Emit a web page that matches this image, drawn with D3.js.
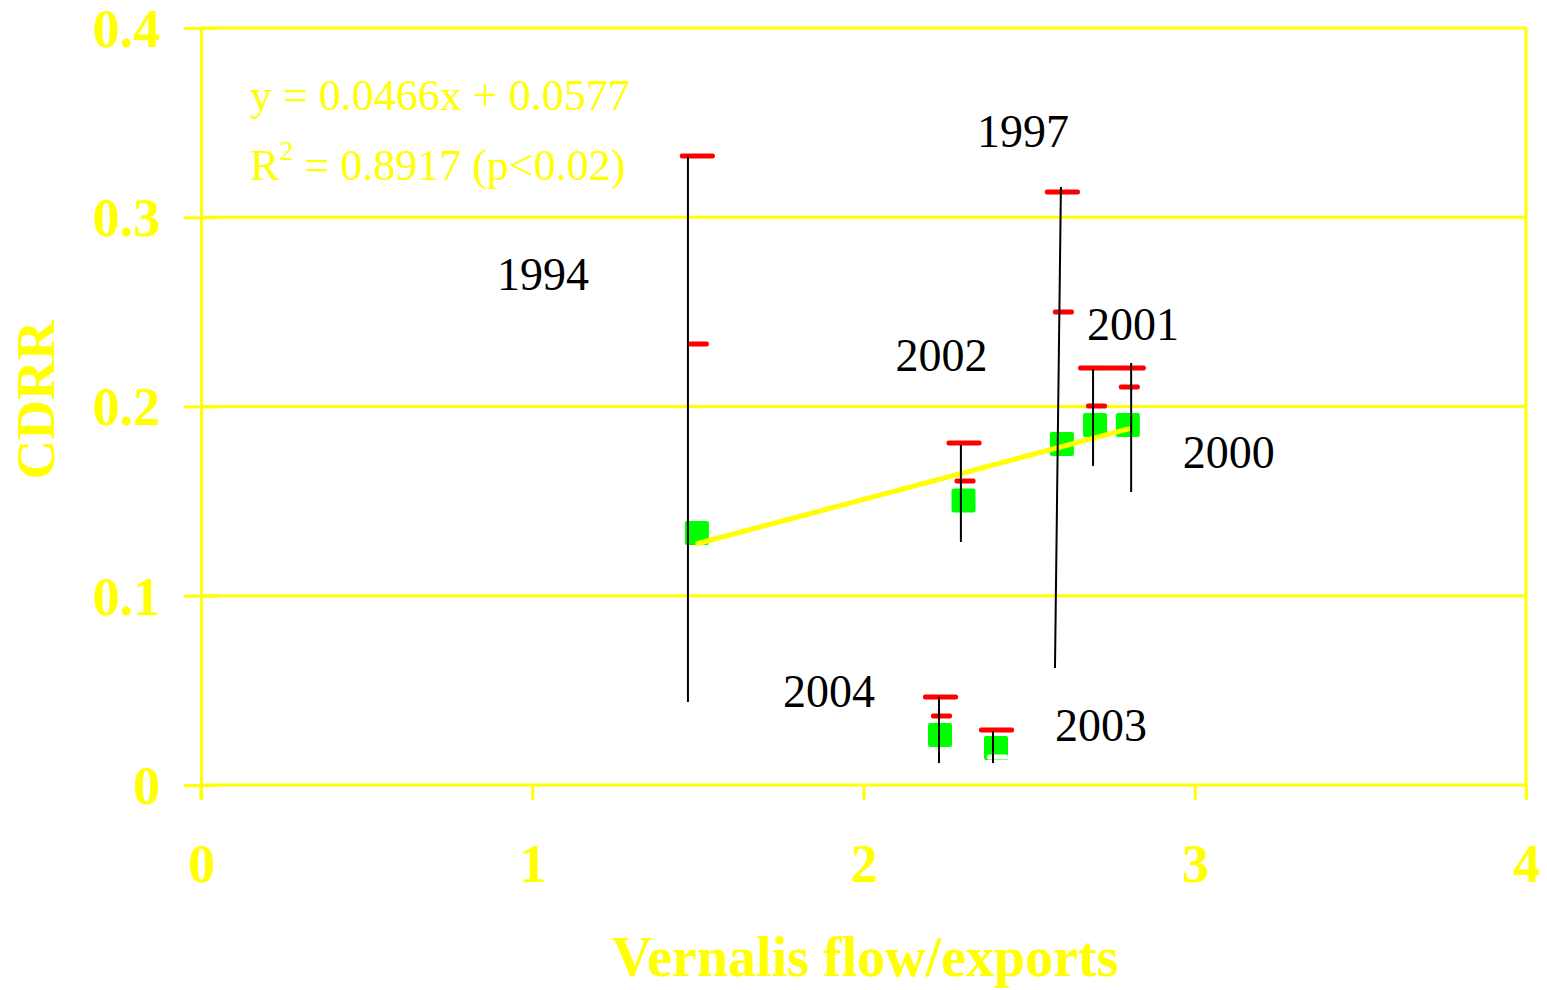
<!DOCTYPE html>
<html>
<head>
<meta charset="utf-8">
<script src="https://cdn.jsdelivr.net/npm/d3@7"></script>
<style>
  body { margin: 0; background: #fff; }
  svg { display: block; }
  text { font-family: "Liberation Serif", "Times New Roman", serif; }
</style>
</head>
<body>
<svg id="chart" width="1547" height="990"></svg>
<script>
// CDRR vs Vernalis flow/exports, one point per year

var years       = ["1994", "2002", "1997", "2001", "2000", "2004", "2003"];
var flowExports = [1.497, 2.302, 2.599, 2.699, 2.798, 2.231, 2.400];
var cdrr        = [0.1332, 0.1503, 0.1802, 0.1902, 0.1902, 0.0264, 0.0196];

// red markers: upper (wide) and middle (short)
var upperMark = [0.3324, 0.1807, 0.3133, 0.2203, 0.2203, 0.0465, 0.0291];
var midMark   = [0.2330, 0.1606, 0.2499, 0.2003, 0.2103, 0.0365, 0.0148];

// black range lines
var barTop     = [0.3324, 0.1797, 0.3160, 0.2198, 0.2230, 0.0465, 0.0285];
var barBottom  = [0.0439, 0.1284, 0.0618, 0.1686, 0.1548, 0.0116, 0.0116];
var barXTop    = [1.470, 2.294, 2.596, 2.693, 2.808, 2.228, 2.391];
var barXBottom = [1.470, 2.294, 2.578, 2.693, 2.808, 2.228, 2.391];

// trend line y = a x + b
var slope = 0.0466;
var intercept = 0.0577;
var trendRange = [1.5, 2.8];
var eqText = "y = 0.0466x + 0.0577";
var r2Text = " = 0.8917 (p<0.02)";

var xTicks = [0, 1, 2, 3, 4];
var yTicks = [0, 0.1, 0.2, 0.3, 0.4];

// label offsets (px) from each point
var labelOffset = {
  "1994": [-200, -243], "2002": [-68, -130], "1997": [-85, -297],
  "2001": [-8, -85], "2000": [55, 43], "2004": [-157, -28], "2003": [59, -7]
};

var yellow = "#ffff00";
var svg = d3.select("#chart");

var x = d3.scaleLinear().domain([0, 4]).range([201, 1526]);
var y = d3.scaleLinear().domain([0, 0.4]).range([785, 28]);

// gridlines + top border
svg.append("g").selectAll("line")
  .data(yTicks.filter(function(d) { return d > 0; }))
  .enter().append("line")
  .attr("x1", x(0)).attr("x2", x(4))
  .attr("y1", function(d) { return y(d); })
  .attr("y2", function(d) { return y(d); })
  .attr("stroke", yellow).attr("stroke-width", 3);

// right border
svg.append("line")
  .attr("x1", x(4)).attr("x2", x(4)).attr("y1", y(0.4)).attr("y2", y(0))
  .attr("stroke", yellow).attr("stroke-width", 3);

// x axis
var xAxis = svg.append("g")
  .attr("transform", "translate(0," + y(0) + ")")
  .call(d3.axisBottom(x).tickValues(xTicks).tickSize(15).tickPadding(44)
        .tickFormat(d3.format("d")));
// y axis (cross ticks)
var yAxis = svg.append("g")
  .attr("transform", "translate(" + x(0) + ",0)")
  .call(d3.axisLeft(y).tickValues(yTicks).tickSize(17).tickPadding(24)
        .tickFormat(function(d) { return d === 0 ? "0" : d3.format(".1f")(d); }));
var yAxis2 = svg.append("g")
  .attr("transform", "translate(" + x(0) + ",0)")
  .call(d3.axisRight(y).tickValues(yTicks).tickSize(17).tickFormat(""));

[xAxis, yAxis, yAxis2].forEach(function(g) {
  g.select(".domain").attr("stroke", yellow).attr("stroke-width", 3);
  g.selectAll(".tick line").attr("stroke", yellow).attr("stroke-width", 3);
  g.selectAll(".tick text")
    .attr("fill", yellow)
    .attr("font-family", "Liberation Serif, Times New Roman, serif")
    .attr("font-weight", "bold")
    .attr("font-size", 54);
});
yAxis2.select(".domain").remove();
xAxis.select(".domain").attr("d", "M" + (x(0) - 1.5) + ",0H" + (x(4) + 1.5));
// extend y axis down to the x tick
svg.append("line")
  .attr("x1", x(0)).attr("x2", x(0)).attr("y1", y(0)).attr("y2", y(0) + 15)
  .attr("stroke", yellow).attr("stroke-width", 3);
yAxis.selectAll(".tick text").attr("dy", "0.34em");

// axis titles
svg.append("text")
  .attr("x", 865).attr("y", 976)
  .attr("text-anchor", "middle")
  .attr("fill", yellow).attr("font-weight", "bold").attr("font-size", 56)
  .text("Vernalis flow/exports");
svg.append("text")
  .attr("transform", "translate(54,400) rotate(-90)")
  .attr("text-anchor", "middle")
  .attr("fill", yellow).attr("font-weight", "bold").attr("font-size", 55)
  .text("CDRR");

var idx = d3.range(years.length);

// green squares
svg.append("g").selectAll("rect")
  .data(idx).enter().append("rect")
  .attr("x", function(i) { return x(flowExports[i]) - 12; })
  .attr("y", function(i) { return y(cdrr[i]) - 12; })
  .attr("width", 24).attr("height", 24).attr("rx", 2)
  .attr("fill", "#00ff00");

// trend line
svg.append("line")
  .attr("x1", x(trendRange[0])).attr("y1", y(slope * trendRange[0] + intercept))
  .attr("x2", x(trendRange[1])).attr("y2", y(slope * trendRange[1] + intercept))
  .attr("stroke", yellow).attr("stroke-width", 5).attr("stroke-linecap", "round");

// red markers
svg.append("g").selectAll("rect")
  .data(idx).enter().append("rect")
  .attr("x", function(i) { return x(flowExports[i]) - 17; })
  .attr("y", function(i) { return y(upperMark[i]) - 2.5; })
  .attr("width", 35).attr("height", 5).attr("rx", 2)
  .attr("fill", "#ff0000");
svg.append("g").selectAll("rect")
  .data(idx).enter().append("rect")
  .attr("x", function(i) { return x(flowExports[i]) - 9; })
  .attr("y", function(i) { return y(midMark[i]) - 2.5; })
  .attr("width", 21).attr("height", 5).attr("rx", 2)
  .attr("fill", function(i) { return midMark[i] < cdrr[i] ? "#ffffff" : "#ff0000"; });

// black range lines
svg.append("g").selectAll("line")
  .data(idx).enter().append("line")
  .attr("x1", function(i) { return x(barXTop[i]); })
  .attr("y1", function(i) { return y(barTop[i]); })
  .attr("x2", function(i) { return x(barXBottom[i]); })
  .attr("y2", function(i) { return y(barBottom[i]); })
  .attr("stroke", "#000").attr("stroke-width", 2);

// year labels
svg.append("g").selectAll("text")
  .data(idx).enter().append("text")
  .attr("x", function(i) { return x(flowExports[i]) + labelOffset[years[i]][0]; })
  .attr("y", function(i) { return y(cdrr[i]) + labelOffset[years[i]][1]; })
  .attr("font-size", 46).attr("fill", "#000")
  .text(function(i) { return years[i]; });

// regression text
svg.append("text")
  .attr("x", 250).attr("y", 110)
  .attr("font-size", 44).attr("fill", yellow)
  .text(eqText);
var r2 = svg.append("text")
  .attr("x", 250).attr("y", 180)
  .attr("font-size", 44).attr("fill", yellow);
r2.append("tspan").text("R");
r2.append("tspan").attr("font-size", 28).attr("dy", -20).text("2");
r2.append("tspan").attr("dy", 20).text(r2Text);
</script>
</body>
</html>
